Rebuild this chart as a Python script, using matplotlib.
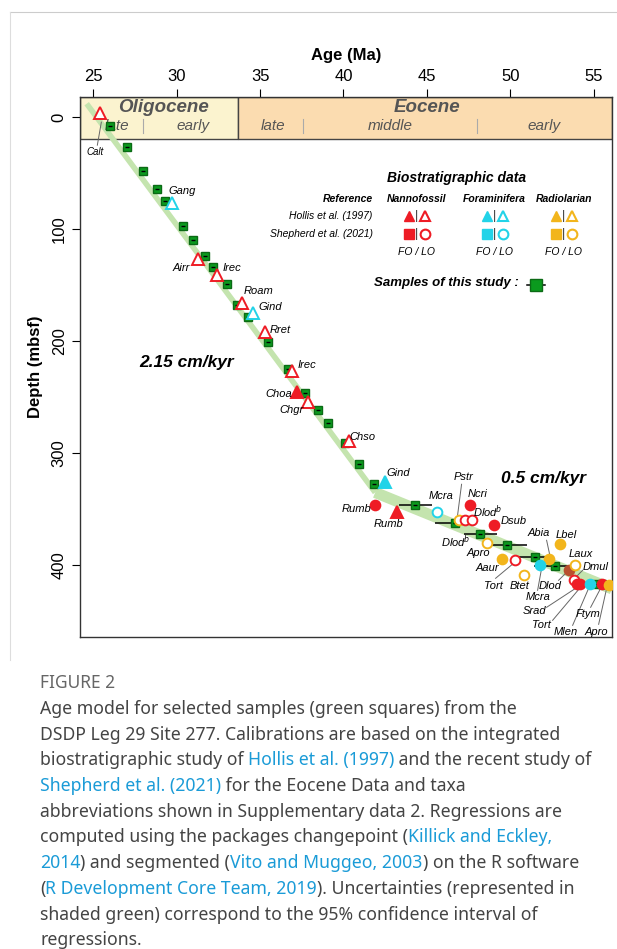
import matplotlib
matplotlib.use("Agg")
import matplotlib.pyplot as plt
from matplotlib.patches import Rectangle
from matplotlib.lines import Line2D

plt.rcParams['font.family'] = ['Liberation Sans', 'DejaVu Sans']

# ---------------- data ----------------
sample_age = [26.0, 27.0, 28.0, 28.8, 29.3, 30.4, 31.0, 31.7, 32.2, 33.0, 33.6, 34.3, 35.5, 36.7,
              37.7, 38.5, 39.1, 40.1, 40.9, 41.8, 44.3, 46.7, 48.2, 49.8, 51.5, 52.7, 55.2, 55.5]
sample_depth = [8, 27, 48, 64, 75, 97, 110, 124, 134, 149, 168, 178, 201, 225,
                246, 261, 273, 291, 310, 327, 346, 362, 372, 382, 393, 401, 417, 417]
sample_err = [0.2]*20 + [1.0, 1.2, 1.0, 1.2, 1.0, 1.3, 0.9, 0.9]

reg_age = [24.6, 41.9, 56.1]
reg_depth = [-12, 335, 421]

# biostrat events
ev_name = ['Calt','Gang','Airr','Irec','Roam','Gind','Rret','Irec','Choa','Chgr','Chso','Gind',
           'Rumb','Rumb','Mcra','Pstr','Dlod','Dlod','Ncri','Dsub','Apro','Aaur','Tort','Btet',
           'Abia','Lbel','Mcra','Dlod','Laux','Dmul','Srad','Tort','Mlen','Ftym','Apro']
ev_age = [25.4,29.7,31.3,32.4,33.9,34.6,35.3,36.9,37.2,37.9,40.3,42.5,
          41.9,43.2,45.6,46.9,47.3,47.7,47.6,49.0,48.6,49.5,50.3,50.8,
          52.3,53.0,51.8,53.5,53.9,53.8,54.0,54.2,54.8,55.5,55.9]
ev_depth = [-4,77,127,141,166,175,192,227,245,254,289,326,
            346,352,352,360,360,360,346,364,380,394,395,409,
            394,381,400,404,400,413,417,417,417,417,418]
ev_group = ['N','F','N','N','N','F','N','N','N','N','N','F',
            'N','N','F','R','N','N','N','N','R','R','N','R',
            'R','R','F','D','R','N','N','N','F','N','R']
ev_marker = ['^','^','^','^','^','^','^','^','^','^','^','^',
             'o','^','o','o','o','o','o','o','o','o','o','o',
             'o','o','o','o','o','o','o','o','o','o','o']
ev_filled = [0,0,0,0,0,0,0,0,1,0,0,1,
             1,1,0,0,0,0,1,1,0,1,0,0,
             1,1,1,1,0,0,1,1,1,1,1]

RED, CYAN, YEL = '#ee1c25', '#22d3e8', '#f2b51c'
gcol = {'N': RED, 'F': CYAN, 'R': YEL, 'D': '#b8502e'}

# ---------------- figure ----------------
W, H = 617, 949
fig = plt.figure(figsize=(W/100, H/100), dpi=100)
fig.add_artist(Line2D([10/W, 1], [1-12/H, 1-12/H], color='#cccccc', lw=0.8))
fig.add_artist(Line2D([10/W, 10/W], [1-12/H, 1-660/H], color='#dddddd', lw=0.8))

ax = fig.add_axes([80/W, 1-637/H, 532/W, 540/H])
ax.set_xlim(24.2, 56.1)
ax.set_ylim(464, -18)

def px(x, y):
    return 25 + (x-93)/16.667, (y-117)/1.12

# header band
ax.add_patch(Rectangle((24.2, -18), 33.7-24.2, 37.6, fc='#fbf3cf', ec='#444', lw=1, zorder=1))
ax.add_patch(Rectangle((33.7, -18), 56.1-33.7, 37.6, fc='#fbdcb0', ec='#444', lw=1, zorder=1))
hc = '#555555'
ax.text(29.2, -9, 'Oligocene', ha='center', va='center', fontsize=13.5, style='italic', weight='bold', color=hc)
ax.text(45.0, -9, 'Eocene', ha='center', va='center', fontsize=13.5, style='italic', weight='bold', color=hc)
for a, t in [(26.4, 'late'), (31.0, 'early'), (35.8, 'late'), (42.8, 'middle'), (52.0, 'early')]:
    ax.text(a, 8, t, ha='center', va='center', fontsize=11, style='italic', color=hc)
for a in [28.0, 37.6, 48.0]:
    ax.plot([a, a], [2, 14], color='#aaaaaa', lw=0.8)

# regression band
ax.plot(reg_age[:2], reg_depth[:2], color='#c4e4ae', lw=4, solid_capstyle='butt', zorder=2)
ax.plot(reg_age[1:], reg_depth[1:], color='#c4e4ae', lw=8, solid_capstyle='butt', zorder=2)

# samples
ax.errorbar(sample_age, sample_depth, xerr=sample_err, fmt='s', ms=6, mfc='#0b9a1e', mec='#0b6a15',
            ecolor='black', elinewidth=1.1, capsize=0, zorder=5)
ax.plot(sample_age, sample_depth, '_', ms=3.5, mec='black', mew=1, zorder=5.5)

# events
for n, a, d, g, m, f in zip(ev_name, ev_age, ev_depth, ev_group, ev_marker, ev_filled):
    c = gcol[g]
    ax.plot(a, d, m, ms=7 if m == 'o' else 8, mfc=c if f else 'white', mec=c, mew=1.4, zorder=6)

# labels
def lab(t, x, y, fs=8, line=None):
    a, d = px(x, y)
    ax.text(a, d, t, fontsize=fs, style='italic', ha='center', va='center', zorder=7)
    if line:
        a1, d1 = px(*line[0]); a2, d2 = px(*line[1])
        ax.plot([a1, a2], [d1, d2], color='#666', lw=0.7, zorder=4)

lab('Calt', 95, 152, 7, ((97, 145), (101, 122)))
lab('Gang', 182, 191); lab('Airr', 181, 268); lab('Irec', 232, 268); lab('Roam', 258, 291)
lab('Gind', 270, 307); lab('Rret', 280, 330); lab('Irec', 306, 365); lab('Choa', 278, 394)
lab('Chgr', 291, 410); lab('Chso', 362, 437); lab('Gind', 398, 473); lab('Rumb', 356, 509)
lab('Rumb', 388, 524); lab('Mcra', 441, 496); lab('Pstr', 463, 477, line=((461, 484), (457, 515)))
lab('Ncri', 477, 494); lab('Dlod$^{b}$', 487, 511); lab('Dsub', 513, 521); lab('Dlod$^{b}$', 455, 541)
lab('Apro', 478, 553); lab('Aaur', 487, 568); lab('Tort', 493, 586, line=((495, 578), (513, 563)))
lab('Btet', 519, 586); lab('Abia', 538, 533, line=((546, 540), (549, 554))); lab('Lbel', 566, 535)
lab('Laux', 580, 554); lab('Dmul', 595, 567, line=((582, 570), (576, 576)))
lab('Dlod', 550, 586, line=((558, 580), (567, 571)))
lab('Mcra', 537, 597, line=((537, 590), (541, 568)))
lab('Srad', 534, 611, line=((546, 607), (575, 588)))
lab('Tort', 541, 625, line=((552, 620), (579, 588)))
lab('Mlen', 565, 632, line=((572, 625), (588, 588)))
lab('Ftym', 587, 614, line=((590, 607), (600, 588)))
lab('Apro', 596, 632, line=((598, 624), (606, 588)))

a, d = px(186, 362); ax.text(a, d, '2.15 cm/kyr', fontsize=12.5, style='italic', weight='bold', ha='center', va='center')
a, d = px(543, 478); ax.text(a, d, '0.5 cm/kyr', fontsize=12.5, style='italic', weight='bold', ha='center', va='center')

# legend
def t(s, x, y, fs=7.5, bold=False, ha='center'):
    a, d = px(x, y)
    ax.text(a, d, s, fontsize=fs, style='italic', weight='bold' if bold else 'normal', ha=ha, va='center')
t('Biostratigraphic data', 456, 178, 10, True)
t('Reference', 372, 199, 7.5, True, 'right'); t('Nannofossil', 416, 199, 7.5, True)
t('Foraminifera', 494, 199, 7.5, True); t('Radiolarian', 563, 199, 7.5, True)
t('Hollis et al. (1997)', 372, 216, 7.5, False, 'right'); t('Shepherd et al. (2021)', 372, 234, 7.5, False, 'right')
for x0, c in [(416, RED), (494, CYAN), (563, YEL)]:
    t('FO / LO', x0, 252, 7.5)
    for yy, m1, m2 in [(216, '^', '^'), (234, 's', 'o')]:
        a1, d1 = px(x0-8, yy); a2, d2 = px(x0+8, yy)
        ax.plot(a1, d1, m1, ms=7, mfc=c, mec=c)
        ax.plot(a2, d2, m2, ms=7, mfc='white', mec=c, mew=1.5)
        am, dm = px(x0, yy)
        ax.text(am, dm, '|', fontsize=9, ha='center', va='center', color='#333')
t('Samples of this study :', 518, 283, 9.5, True, 'right')
a1, d1 = px(526, 285); a2, d2 = px(544, 285); am, dm = px(535, 285)
ax.plot([a1, a2], [d1, d2], color='black', lw=1.1)
ax.plot(am, dm, 's', ms=9, mfc='#0b9a1e', mec='#0b6a15')

# axes styling
ax.xaxis.set_ticks_position('top'); ax.xaxis.set_label_position('top')
ax.set_xticks([25, 30, 35, 40, 45, 50, 55])
ax.set_yticks([0, 100, 200, 300, 400])
ax.tick_params(labelsize=12, length=6, direction='out')
for lbl in ax.get_yticklabels():
    lbl.set_rotation(90); lbl.set_va('center')
ax.set_xlabel('Age (Ma)', fontsize=12, weight='bold', labelpad=6)
ax.set_ylabel('Depth (mbsf)', fontsize=12, weight='bold', labelpad=6)
for s in ax.spines.values():
    s.set_color('#333'); s.set_linewidth(1)

# caption
fig.text(40/W, 1-683/H, 'FIGURE 2', fontsize=12.5, color='#666666', family='Noto Sans', va='center')
LINK = '#1a9bd7'
cap = [
    [('Age model for selected samples (green squares) from the', 0)],
    [('DSDP Leg 29 Site 277. Calibrations are based on the integrated', 0)],
    [('biostratigraphic study of ', 0), ('Hollis et al. (1997)', 1), (' and the recent study of', 0)],
    [('Shepherd et al. (2021)', 1), (' for the Eocene Data and taxa', 0)],
    [('abbreviations shown in Supplementary data 2. Regressions are', 0)],
    [('computed using the packages changepoint (', 0), ('Killick and Eckley,', 1)],
    [('2014', 1), (') and segmented (', 0), ('Vito and Muggeo, 2003', 1), (') on the R software', 0)],
    [('(', 0), ('R Development Core Team, 2019', 1), ('). Uncertainties (represented in', 0)],
    [('shaded green) correspond to the 95% confidence interval of', 0)],
    [('regressions.', 0)],
]
fig.canvas.draw()
r = fig.canvas.get_renderer()
for i, segs in enumerate(cap):
    x = 40
    y = 1 - (709 + i*25.7)/H
    for s, link in segs:
        tt = fig.text(x/W, y, s, fontsize=12.7, family='Noto Sans', color=LINK if link else '#444444', va='center')
        bb = tt.get_window_extent(renderer=r)
        x += bb.width

fig.savefig('out.png', dpi=100)
